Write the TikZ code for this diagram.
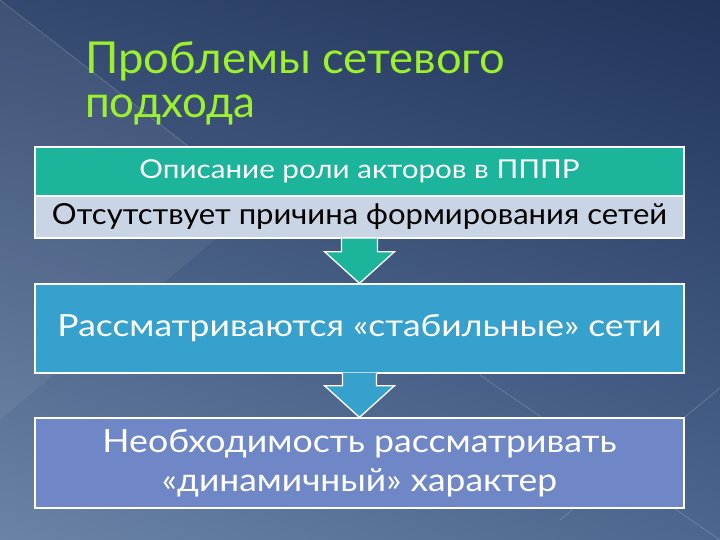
\documentclass[tikz,border=0pt]{standalone}
\usepackage{graphicx}
\usepackage{fontspec}
\setmainfont{Lato}
\usetikzlibrary{calc,shadings}
\definecolor{bgUL}{HTML}{34496F}
\definecolor{bgUR}{HTML}{21345A}
\definecolor{bgLL}{HTML}{6A83A6}
\definecolor{bgLR}{HTML}{4C6690}
\definecolor{tealA}{HTML}{1CB49B}
\definecolor{greyB}{HTML}{C9D5E4}
\definecolor{blueB}{HTML}{36A1CD}
\definecolor{lilacC}{HTML}{6F87C6}
\definecolor{titlegreen}{HTML}{9CF02C}
\newcommand{\hfit}[2]{\resizebox{#1pt}{\height}{#2}}
\begin{document}
\begin{tikzpicture}[x=1pt,y=-1pt,
  box/.style={draw=white, line width=1.3pt, inner sep=0pt, minimum width=649pt, align=center},
  arrowline/.style={draw=white, line width=1.3pt, line join=miter},
  faint/.style={draw=white, opacity=0.18, line width=0.8pt},
  titletext/.style={anchor=base west, inner sep=0pt, font=\fontsize{44}{50}\selectfont}
]
\useasboundingbox (0,0) rectangle (720,540);
\shade[upper left=bgUL, upper right=bgUR, lower left=bgLL, lower right=bgLR] (0,0) rectangle (720,540);
\fill[white, opacity=0.05] (0,0) -- (260,202) -- (0,420) -- cycle;
\draw[faint] (0,0) -- (260,202);
\draw[faint] (480,375) -- (720,540);
\draw[faint] (560,520) -- (720,388);

% title
\node[titletext, text=titlegreen] (t1) at (85,74) {\hfit{420}{Проблемы сетевого}};
\node[titletext, text=titlegreen] (t2) at (85,118) {\hfit{170}{подхода}};

% boxes
\node[box, fill=tealA, minimum height=49pt, text=white, font=\fontsize{26}{30}\selectfont] (b1a) at (359.5,171.5) {\hfit{440}{Описание роли акторов в ПППР}};
\node[box, fill=greyB, minimum height=42pt, text=black, font=\fontsize{29}{33}\selectfont] (b1b) at (359.5,217) {\hfit{615}{Отсутствует причина формирования сетей}};
\node[box, fill=blueB, minimum height=89pt, text=white, font=\fontsize{30.5}{35}\selectfont] (b2) at (359.5,328.5) {\hfit{604}{Рассматриваются «стабильные» сети}};
\node[box, fill=lilacC, minimum height=90pt, text=white, font=\fontsize{32}{39}\selectfont] (b3) at (359.5,463) {\hfit{514}{Необходимость рассматривать}\\\hfit{395}{«динамичный» характер}};

% arrow 1
\fill[tealA] ($(b1b.south)+(-18,0)$) -- ++(0,13) -- ++(-17,0) -- (b2.north) -- ($(b1b.south)+(35,13)$) -- ++(-17,0) -- ++(0,-13) -- cycle;
\draw[arrowline] ($(b1b.south)+(-18,0)$) -- ++(0,13) -- ++(-17,0) -- (b2.north) -- ($(b1b.south)+(35,13)$) -- ++(-17,0) -- ++(0,-13);
% arrow 2
\fill[blueB] ($(b2.south)+(-17,-1)$) -- ++(0,13) -- ++(-18,0) -- (b3.north) -- ($(b2.south)+(35,12)$) -- ++(-18,0) -- ++(0,-13) -- cycle;
\draw[arrowline] ($(b2.south)+(-17,0)$) -- ++(0,12) -- ++(-18,0) -- (b3.north) -- ($(b2.south)+(35,12)$) -- ++(-18,0) -- ++(0,-12);
\end{tikzpicture}
\end{document}
